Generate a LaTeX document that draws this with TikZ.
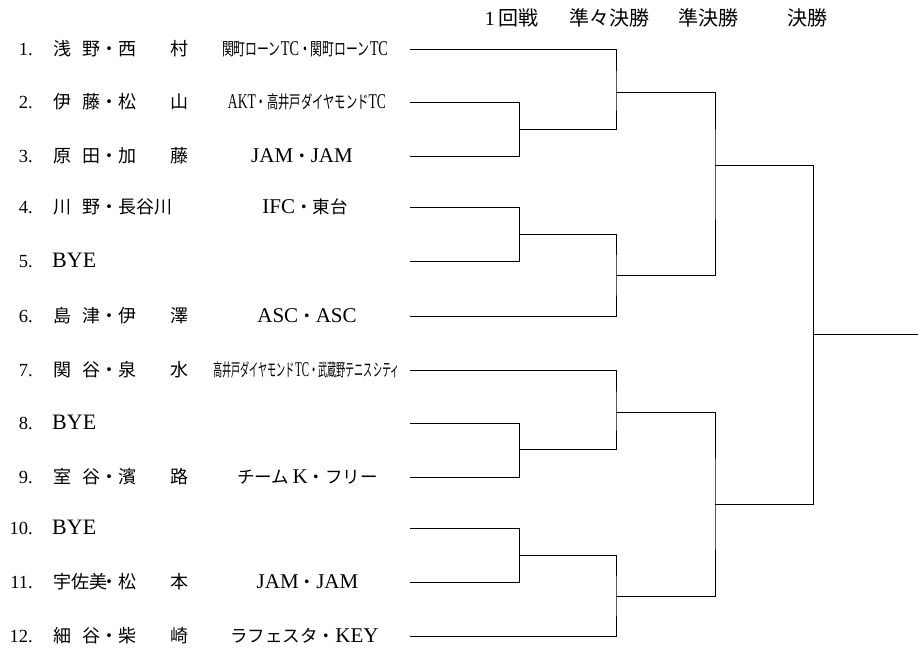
\documentclass[tikz,border=0pt]{standalone}
\usepackage{fontspec}
\usepackage{graphicx}
\setmainfont{Liberation Serif}
\newfontfamily\jp{Noto Sans CJK JP}
\newcommand\ja[1]{{\jp\fontsize{17.5}{18}\selectfont #1}}
\newcommand\pn[2]{\makebox[47pt][s]{#1}・\makebox[70pt][s]{#2}}
\tikzset{num/.style={anchor=base east, inner sep=0pt, font=\fontsize{18.5}{19}\selectfont},
  player/.style={anchor=base west, inner sep=0pt, font=\jp\fontsize{18}{18}\selectfont},
  bye/.style={anchor=base west, inner sep=0pt, font=\fontsize{22}{22}\selectfont},
  club/.style={anchor=base, inner sep=0pt, font=\fontsize{21}{21}\selectfont},
  round/.style={anchor=base, inner sep=0pt, font=\jp\fontsize{20}{20}\selectfont},
  bracket/.style={line width=.8pt}}

\begin{document}
\begin{tikzpicture}[x=1pt,y=-1pt]
  \useasboundingbox (0,0) rectangle (918,648);
  % rounds
  \node[round] (r1) at (511.5,25.5) {{\rmfamily 1\,}回戦};
  \node[round] (r2) at (609,25.5) {準々決勝};
  \node[round] (r3) at (708,25.5) {準決勝};
  \node[round] (r4) at (807,25.5) {決勝};
  % entries
  \foreach \i/\y in {1/49,2/102,3/156,4/207,5/261,6/316,7/370,8/423,9/477,10/528,11/582,12/636}{
    \node[num] (n\i) at (33,\y+6.5) {\i.};
    \coordinate (s\i) at (410,\y);
  }
  \node[player] (p1) at (53,55.5) {\pn{浅\hfill 野}{西\hfill 村}};
  \node[player] (p2) at (53,108.5) {\pn{伊\hfill 藤}{松\hfill 山}};
  \node[player] (p3) at (53,162.5) {\pn{原\hfill 田}{加\hfill 藤}};
  \node[player] (p4) at (53,213.5) {\pn{川\hfill 野}{長谷川}};
  \node[bye] (p5) at (52,267.5) {BYE};
  \node[player] (p6) at (53,322.5) {\pn{島\hfill 津}{伊\hfill 澤}};
  \node[player] (p7) at (53,376.5) {\pn{関\hfill 谷}{泉\hfill 水}};
  \node[bye] (p8) at (52,429.5) {BYE};
  \node[player] (p9) at (53,483.5) {\pn{室\hfill 谷}{濱\hfill 路}};
  \node[bye] (p10) at (52,534.5) {BYE};
  \node[player] (p11) at (53,588.5) {\pn{宇佐美}{松\hfill 本}};
  \node[player] (p12) at (53,642.5) {\pn{細\hfill 谷}{柴\hfill 崎}};
  % clubs
  \node[club] (c1) at (305,55.5) {\resizebox{166pt}{\height}{\ja{関町ローン}TC\ja{・関町ローン}TC}};
  \node[club] (c2) at (307,108.5) {\resizebox{158pt}{\height}{AKT\ja{・高井戸ダイヤモンド}TC}};
  \node[club] (c3) at (302,162.5) {JAM\ja{・}JAM};
  \node[club] (c4) at (305,213.5) {IFC\ja{・東台}};
  \node[club] (c6) at (307,322.5) {ASC\ja{・}ASC};
  \node[club] (c7) at (306.5,376.5) {\resizebox{187pt}{\height}{\ja{高井戸ダイヤモンド}TC\ja{・武蔵野テニスシティ}}};
  \node[club] (c9) at (307.5,483.5) {\ja{チーム}\,K\ja{・フリー}};
  \node[club] (c11) at (307.5,588.5) {JAM\ja{・}JAM};
  \node[club] (c12) at (304.5,642.5) {\ja{ラフェスタ・}KEY};
  % bracket joints
  \coordinate (j23) at (519.5,129);
  \coordinate (j45) at (519.5,234);
  \coordinate (j89) at (519.5,449);
  \coordinate (j1011) at (519.5,555);
  \coordinate (q1) at (616,92);
  \coordinate (q2) at (616,275);
  \coordinate (q3) at (616,412);
  \coordinate (q4) at (616,596);
  \coordinate (h1) at (715,165);
  \coordinate (h2) at (715,504);
  \coordinate (f) at (813,334.5);
  \coordinate (win) at (918,334.5);
  \draw[bracket] (s2) -| (j23) |- (s3);
  \draw[bracket] (s1) -| (q1) |- (j23);
  \draw[bracket] (s4) -| (j45) |- (s5);
  \draw[bracket] (j45) -| (q2) |- (s6);
  \draw[bracket] (s8) -| (j89) |- (s9);
  \draw[bracket] (s7) -| (q3) |- (j89);
  \draw[bracket] (s10) -| (j1011) |- (s11);
  \draw[bracket] (j1011) -| (q4) |- (s12);
  \draw[bracket] (q1) -| (h1) |- (q2);
  \draw[bracket] (q3) -| (h2) |- (q4);
  \draw[bracket] (h1) -| (f) |- (h2);
  \draw[bracket] (f) -- (win);
\end{tikzpicture}
\end{document}
